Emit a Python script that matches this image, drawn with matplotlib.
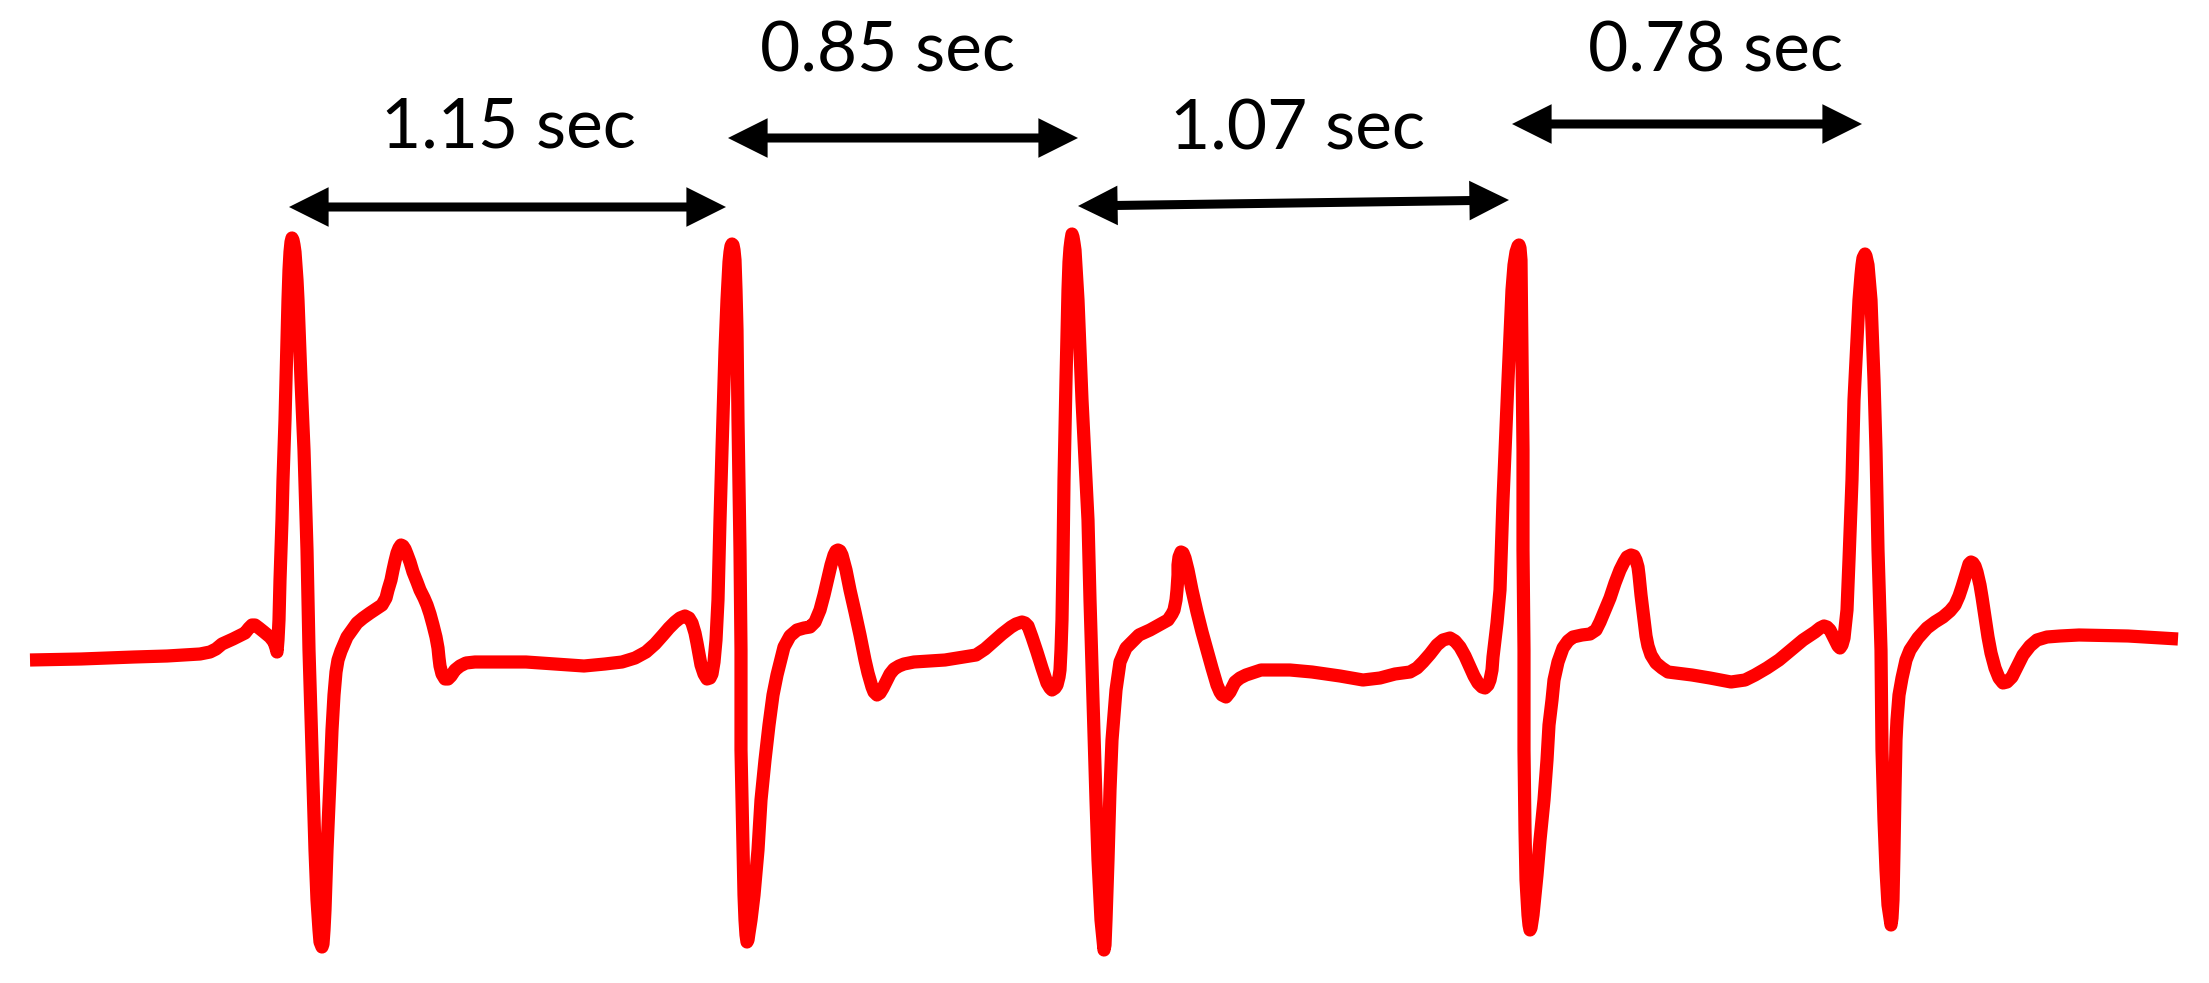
import matplotlib
matplotlib.use("Agg")
import matplotlib.pyplot as plt

# ---- ECG trace (x = horizontal position, y = vertical position, image units) ----
ecg_x = [
    # beat 1 (P, QRS, T)
    30, 81, 134, 167, 200, 210, 216, 222, 233, 245, 249, 252, 255, 259, 264, 270, 274, 276, 277,
    278, 279, 280, 282, 283, 285, 286, 288, 289, 290, 291, 292, 293, 294, 295, 297, 298,
    301, 304, 307, 309, 312, 315, 317, 319, 320, 322, 323, 324, 325, 327, 330, 332, 334, 336, 338,
    341, 344, 347, 352, 357, 363, 370, 376, 382, 386, 388, 391, 393, 395, 397, 399, 401, 403, 405,
    407, 410, 413, 417, 420, 424, 427, 430, 433, 436, 438, 439, 440, 442, 445, 448, 451, 455, 460,
    466, 475,
    # beat 2
    500, 526, 555, 584, 605, 622, 635, 646, 655, 663, 669, 675, 680, 685, 689, 692, 695, 697, 699,
    701, 704, 707, 710, 712, 714, 716, 718, 720, 722, 725, 727, 729, 730, 731, 732, 733, 734, 735,
    736, 737, 738, 740, 741, 741, 743, 744, 745, 746, 747, 748, 749, 751, 754, 758, 761, 765, 769,
    773, 777, 784, 790, 797, 804, 810, 815, 820, 824, 828, 831, 834, 836, 838, 840, 842, 846, 850,
    855, 860, 865, 868, 870, 872, 874, 877, 880, 883, 886, 890, 894, 899, 904, 914, 945, 976,
    # beat 3
    985, 993, 1002, 1011, 1016, 1022, 1025, 1028, 1032, 1037, 1042, 1047, 1050, 1052, 1055, 1057,
    1059, 1060, 1061, 1062, 1063, 1064, 1066, 1068, 1069, 1070, 1071, 1072, 1073, 1074, 1075,
    1078, 1082, 1086, 1088, 1090, 1093, 1096, 1098, 1101, 1103, 1104, 1105, 1106, 1108, 1110, 1112,
    1116, 1120, 1126, 1139, 1150, 1159, 1168, 1172, 1174, 1176, 1177, 1178, 1178, 1179, 1181, 1183,
    1185, 1188, 1192, 1197, 1202, 1207, 1212, 1217, 1220, 1222, 1226, 1230, 1235, 1240, 1246, 1261,
    1290, 1312, 1340, 1363, 1380, 1395, 1410, 1417,
    # beat 4
    1423, 1430, 1437, 1443, 1450, 1455, 1460, 1465, 1470, 1474, 1478, 1482, 1485, 1488, 1490, 1492,
    1493, 1495, 1497, 1500, 1503, 1508, 1512, 1514, 1516, 1518, 1519, 1520, 1521,
    1522, 1523, 1523, 1524, 1524, 1525, 1526, 1528, 1529, 1530, 1531, 1533, 1537, 1540, 1544, 1547,
    1549, 1552, 1554, 1558, 1563, 1568, 1573, 1582, 1590, 1596, 1600, 1605, 1610, 1615, 1620, 1624,
    1627, 1631, 1634, 1636, 1638, 1639, 1641, 1644, 1646, 1648, 1651, 1656, 1662, 1668, 1692, 1710,
    1731, 1745, 1755, 1767, 1779, 1791, 1803,
    # beat 5
    1815, 1820, 1824, 1827, 1830, 1835, 1838, 1840, 1842, 1844, 1847, 1849, 1852, 1854, 1857, 1859,
    1861, 1862, 1863, 1865, 1866, 1868, 1871, 1874, 1876, 1878, 1881, 1882, 1884, 1886, 1888, 1890,
    1891, 1892, 1893, 1894, 1895, 1896, 1897, 1899, 1902, 1906, 1910, 1918, 1927, 1935, 1943, 1950,
    1955, 1959, 1962, 1965, 1967, 1969, 1971, 1973, 1975, 1977, 1980, 1982, 1985, 1988, 1991, 1995,
    1999, 2003, 2007, 2012, 2017, 2023, 2030, 2037, 2047, 2060, 2079, 2128, 2178,
]
ecg_y = [
    # beat 1
    660, 659, 657, 656, 654, 652, 649, 644, 639, 633, 628, 625, 625, 628, 632, 637, 642, 648, 652,
    640, 620, 580, 520, 480, 420, 380, 300, 270, 252, 242, 238, 240, 245, 252, 280, 300,
    380, 450, 550, 650, 750, 850, 900, 930, 942, 947, 944, 930, 910, 850, 780, 730, 695, 672, 660,
    651, 644, 637, 630, 623, 618, 613, 609, 605, 598, 590, 580, 570, 561, 553, 548, 545, 546, 549,
    554, 562, 572, 582, 590, 598, 605, 614, 625, 637, 648, 658, 666, 674, 679, 679, 676, 670, 666,
    663, 662,
    # beat 2
    662, 662, 664, 666, 664, 662, 658, 652, 644, 635, 628, 622, 618, 616, 618, 623, 633, 643, 654,
    665, 674, 679, 678, 674, 662, 640, 600, 520, 450, 350, 300, 262, 252, 246, 244, 245, 250, 260,
    290, 330, 420, 550, 650, 750, 850, 895, 920, 935, 942, 940, 933, 920, 895, 850, 800, 760, 725,
    695, 675, 647, 636, 630, 628, 627, 622, 610, 595, 578, 565, 555, 551, 550, 551, 555, 570, 590,
    612, 635, 660, 673, 680, 687, 692, 695, 693, 688, 682, 674, 669, 666, 664, 662, 660, 655,
    # beat 3
    649, 642, 634, 627, 624, 622, 623, 626, 637, 652, 668, 683, 688, 690, 688, 685,
    677, 670, 650, 620, 560, 480, 380, 290, 262, 248, 240, 234, 237, 243, 250,
    300, 400, 480, 520, 600, 700, 800, 860, 920, 940, 950, 945, 920, 860, 790, 740,
    690, 662, 648, 635, 630, 625, 620, 614, 610, 600, 590, 575, 565, 557, 552, 553,
    558, 570, 590, 612, 632, 650, 668, 685, 692, 695, 697, 692, 682, 678, 675, 670,
    670, 672, 676, 680, 678, 674, 672, 668,
    # beat 4
    662, 654, 645, 640, 638, 641, 647, 656, 667, 676, 683, 687, 688, 685, 680, 670,
    657, 640, 623, 590, 500, 380, 290, 265, 252, 246, 245, 248, 260,
    350, 450, 550, 650, 750, 830, 880, 915, 925, 930, 928, 915, 875, 840, 800, 760,
    725, 700, 680, 662, 648, 641, 637, 635, 634, 630, 622, 610, 598, 583, 570, 562,
    557, 555, 556, 560, 567, 575, 595, 620, 636, 646, 655, 663, 668, 672, 675, 678,
    682, 680, 675, 668, 660, 650, 640,
    # beat 5
    632, 628, 626, 627, 630, 640, 646, 648, 645, 638, 610, 560, 480, 400, 340, 300,
    275, 265, 258, 254, 256, 265, 300, 380, 450, 550, 650, 750, 820, 870, 905, 918,
    925, 918, 900, 850, 790, 740, 720, 695, 678, 660, 650, 638, 628, 622, 617, 611,
    605, 596, 587, 577, 570, 564, 562, 563, 566, 572, 585, 597, 617, 637, 653, 668,
    678, 683, 682, 677, 667, 655, 646, 640, 637, 636, 635, 636, 639,
]

# ---- RR-interval annotations ----
interval_labels = ["1.15 sec", "0.85 sec", "1.07 sec", "0.78 sec"]
arrow_x0 = [289, 728, 1078, 1512]
arrow_x1 = [726, 1078, 1509, 1862]
arrow_y0 = [207, 138, 206, 124]
arrow_y1 = [207, 138, 200, 124]
label_x = [508, 887, 1298, 1716]
label_baseline_y = [147, 72, 150, 72]

fig = plt.figure(figsize=(22.09, 9.83), dpi=100)
ax = fig.add_axes([0, 0, 1, 1])
ax.set_xlim(0, 2209)
ax.set_ylim(983, 0)
ax.axis("off")

ax.plot(ecg_x, ecg_y, color="#ff0000", lw=9.5, solid_joinstyle="round",
        solid_capstyle="butt")

for lab, x0, x1, y0, y1, lx, ly in zip(interval_labels, arrow_x0, arrow_x1,
                                       arrow_y0, arrow_y1, label_x, label_baseline_y):
    ax.annotate("", xy=(x1, y1), xytext=(x0, y0),
                arrowprops=dict(arrowstyle="<|-|>,head_length=1.8,head_width=0.9",
                                lw=6.5, color="black", shrinkA=0, shrinkB=0,
                                mutation_scale=10, joinstyle="miter", capstyle="butt"))
    ax.text(lx, ly, lab, ha="center", va="baseline", fontsize=50,
            family=["Lato", "DejaVu Sans"], color="black")

fig.savefig("out.png", dpi=100)
